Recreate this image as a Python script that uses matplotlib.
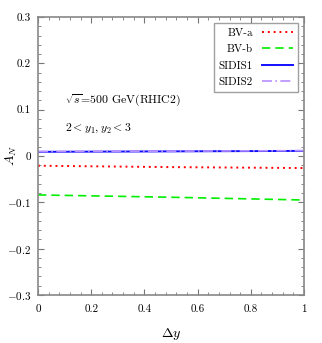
import numpy as np
import matplotlib.pyplot as plt
from matplotlib.ticker import MultipleLocator

plt.rcParams['font.family'] = 'serif'
plt.rcParams['font.serif'] = ['cmr10']
plt.rcParams['mathtext.fontset'] = 'cm'
plt.rcParams['axes.formatter.use_mathtext'] = True

# data
dy = [0.0, 0.25, 0.5, 0.75, 1.0]
bv_a = [-0.021, -0.0225, -0.024, -0.025, -0.026]
bv_b = [-0.084, -0.0865, -0.089, -0.092, -0.095]
sidis1 = [0.009, 0.0095, 0.010, 0.0105, 0.011]
sidis2 = [0.0095, 0.010, 0.0105, 0.011, 0.0115]

fig = plt.figure(figsize=(3.22, 3.43), dpi=100)
ax = fig.add_axes([38 / 322, 1 - 295 / 343, 266 / 322, 278 / 343])

ax.plot(dy, bv_a, color='red', ls=(0, (1, 2)), lw=1.4, label='BV-a')
ax.plot(dy, bv_b, color='#00ee00', ls=(0, (5, 3)), lw=1.2, label='BV-b')
ax.plot(dy, sidis1, color='#1010ff', ls='-', lw=1.4, label='SIDIS1')
ax.plot(dy, sidis2, color='#b890ff', ls=(0, (6, 2, 1, 2)), lw=1.2, label='SIDIS2')

ax.set_xlim(0, 1)
ax.set_ylim(-0.3, 0.3)
ax.xaxis.set_minor_locator(MultipleLocator(0.04))
ax.yaxis.set_minor_locator(MultipleLocator(0.02))
ax.set_xticks([0, 0.2, 0.4, 0.6, 0.8, 1.0], ['0', '0.2', '0.4', '0.6', '0.8', '1'])
ax.set_yticks([-0.3, -0.2, -0.1, 0, 0.1, 0.2, 0.3],
              ['$-0.3$', '$-0.2$', '$-0.1$', '0', '0.1', '0.2', '0.3'])
ax.tick_params(which='both', direction='in', top=True, right=True, color='#777777',
               labelsize=8)
ax.tick_params(axis='x', pad=7)
ax.tick_params(axis='y', pad=5)
ax.tick_params(which='major', length=4)
ax.tick_params(which='minor', length=2)
for s in ax.spines.values():
    s.set_color('#888888')
    s.set_linewidth(1.2)

ax.set_xlabel(r'$\Delta y$', fontsize=10)
ax.xaxis.set_label_coords(0.5, -0.112)
ax.set_ylabel(r'$A_N$', fontsize=10)
ax.yaxis.set_label_coords(-0.07, 0.5)

ax.text(0.1, 0.69, r'$\sqrt{s}$=500 GeV(RHIC2)', transform=ax.transAxes, fontsize=8.5)
ax.text(0.1, 0.59, r'$2<y_1,y_2<3$', transform=ax.transAxes, fontsize=8.5)

leg = ax.legend(loc='upper right', markerfirst=False, fontsize=8, fancybox=False,
                handlelength=2.8, borderaxespad=0.55, labelspacing=0.6,
                handletextpad=0.8, borderpad=0.45)
leg.get_frame().set_edgecolor('#888888')
leg.get_frame().set_linewidth(1.0)
for t in leg.get_texts():
    t.set_ha('right')

fig.savefig('out.png', dpi=100)
